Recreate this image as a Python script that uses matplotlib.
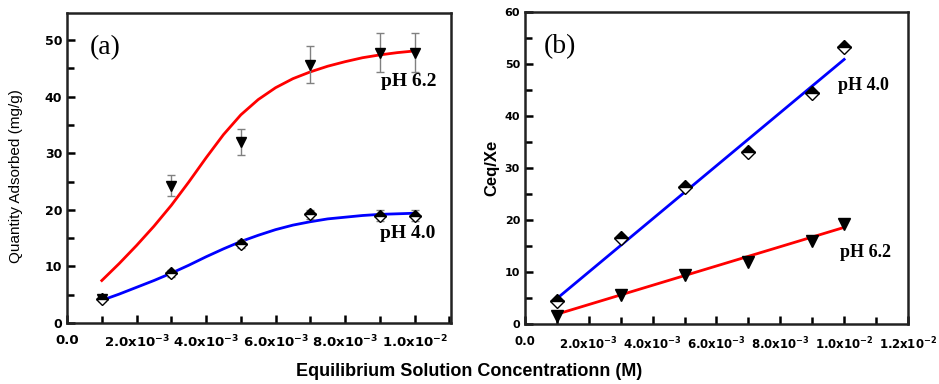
import matplotlib
matplotlib.use('Agg')
import matplotlib.pyplot as plt
from matplotlib.ticker import MultipleLocator

plt.rcParams['font.family'] = 'Liberation Sans'
plt.rcParams['font.weight'] = 'bold'
plt.rcParams['mathtext.fontset'] = 'custom'
plt.rcParams['mathtext.rm'] = 'DejaVu Sans:bold'
plt.rcParams['mathtext.bf'] = 'DejaVu Sans:bold'
plt.rcParams['mathtext.it'] = 'DejaVu Sans:bold'
plt.rcParams['mathtext.default'] = 'bf'

# concentrations (M)
conc = [1e-3, 3e-3, 5e-3, 7e-3, 9e-3, 10e-3]

# (a) quantity adsorbed (mg/g)
q_ph62 = [4.3, 24.3, 32.0, 45.7, 47.8, 47.8]
q_ph62_err = [0.5, 1.8, 2.3, 3.2, 3.4, 3.4]
q_ph40 = [4.3, 8.8, 14.0, 19.2, 19.0, 19.0]
q_ph40_err = [0.5, 0.6, 0.7, 0.8, 0.9, 0.9]

# fitted curves
fit_x = [1e-3, 1.5e-3, 2e-3, 2.5e-3, 3e-3, 3.5e-3, 4e-3, 4.5e-3, 5e-3, 5.5e-3,
         6e-3, 6.5e-3, 7e-3, 7.5e-3, 8e-3, 8.5e-3, 9e-3, 9.5e-3, 10e-3]
fit_ph62 = [7.5, 10.5, 13.7, 17.1, 20.8, 24.9, 29.2, 33.3, 36.8, 39.5,
            41.6, 43.2, 44.4, 45.4, 46.2, 46.9, 47.4, 47.8, 48.1]
fit_ph40 = [4.0, 5.1, 6.3, 7.5, 8.8, 10.2, 11.7, 13.1, 14.4, 15.5,
            16.5, 17.3, 17.9, 18.4, 18.7, 19.0, 19.2, 19.3, 19.4]

# (b) Ceq/Xe
c_ph40 = [4.5, 16.5, 26.3, 33.0, 44.5, 53.2]
c_ph62 = [1.5, 5.5, 9.5, 12.0, 16.0, 19.2]
line_x = [1e-3, 10e-3]
line_ph40 = [4.9, 50.9]
line_ph62 = [1.9, 18.6]

xticks_a = [0, 2e-3, 4e-3, 6e-3, 8e-3, 10e-3]
xlabels_a = ['0.0', '2.0x10$^{-3}$', '4.0x10$^{-3}$', '6.0x10$^{-3}$',
             '8.0x10$^{-3}$', '1.0x10$^{-2}$']
xticks_b = xticks_a + [12e-3]
xlabels_b = xlabels_a + ['1.2x10$^{-2}$']

fig = plt.figure(figsize=(9.39, 3.84), dpi=100)
ax1 = fig.add_axes([0.0714, 0.159, 0.409, 0.807])
ax2 = fig.add_axes([0.559, 0.156, 0.408, 0.8125])

serif = 'Liberation Serif'

# panel (a)
ax1.plot(fit_x, fit_ph62, color='red', lw=2, solid_joinstyle='round')
ax1.plot(fit_x, fit_ph40, color='blue', lw=2, solid_joinstyle='round')
ax1.errorbar(conc, q_ph62, yerr=q_ph62_err, fmt='v', color='black', ms=7,
             ecolor='gray', elinewidth=1, capsize=3)
ax1.errorbar(conc, q_ph40, yerr=q_ph40_err, fmt='D', color='black', ms=6,
             fillstyle='top', markerfacecoloralt='white', ecolor='gray',
             elinewidth=1, capsize=3)
ax1.set_xlim(0, 0.01105)
ax1.set_ylim(0, 54.8)
ax1.set_xticks(xticks_a)
ax1.set_xticklabels(xlabels_a)
ax1.xaxis.set_minor_locator(MultipleLocator(1e-3))
ax1.yaxis.set_major_locator(MultipleLocator(10))
ax1.yaxis.set_minor_locator(MultipleLocator(5))
ax1.set_ylabel('Quantity Adsorbed (mg/g)', fontsize=11, fontweight='normal')
ax1.yaxis.set_label_coords(-0.114, 0.474)
ax1.text(0.06, 0.93, '(a)', transform=ax1.transAxes, fontsize=20,
         family=serif, fontweight='normal', va='top')
ax1.text(0.963, 0.78, 'pH 6.2', transform=ax1.transAxes, fontsize=14,
         family=serif, fontweight='bold', ha='right', va='center')
ax1.text(0.958, 0.29, 'pH 4.0', transform=ax1.transAxes, fontsize=14,
         family=serif, fontweight='bold', ha='right', va='center')

# panel (b)
ax2.plot(line_x, line_ph40, color='blue', lw=2)
ax2.plot(line_x, line_ph62, color='red', lw=2)
ax2.plot(conc, c_ph40, 'D', color='black', ms=7, fillstyle='top',
         markerfacecoloralt='white')
ax2.plot(conc, c_ph62, 'v', color='black', ms=9)
ax2.set_xlim(0, 0.012)
ax2.set_ylim(0, 60)
ax2.set_xticks(xticks_b)
ax2.set_xticklabels(xlabels_b)
ax2.xaxis.set_minor_locator(MultipleLocator(1e-3))
ax2.yaxis.set_major_locator(MultipleLocator(10))
ax2.yaxis.set_minor_locator(MultipleLocator(5))
ax2.set_ylabel('Ceq/Xe', fontsize=12, fontweight='bold')
ax2.text(0.05, 0.93, '(b)', transform=ax2.transAxes, fontsize=20,
         family=serif, fontweight='normal', va='top')
ax2.text(0.817, 0.766, 'pH 4.0', transform=ax2.transAxes, fontsize=13,
         family=serif, fontweight='bold', va='center')
ax2.text(0.822, 0.23, 'pH 6.2', transform=ax2.transAxes, fontsize=13,
         family=serif, fontweight='bold', va='center')

for ax in (ax1, ax2):
    for s in ax.spines.values():
        s.set_linewidth(1.8)
        s.set_color('#222222')
    ax.tick_params(which='both', direction='in', width=1.8,
                   labelfontfamily='DejaVu Sans', top=False, right=False)
    ax.tick_params(which='major', length=6)
    ax.tick_params(which='minor', length=5)
    ax.tick_params(axis='x', pad=8)

ax1.tick_params(axis='x', labelsize=9.5)
ax1.tick_params(axis='y', labelsize=9)
ax2.tick_params(axis='x', labelsize=8.5)
ax2.tick_params(axis='y', labelsize=8)

fig.text(0.5, 0.02, 'Equilibrium Solution Concentrationn (M)', ha='center',
         fontsize=13, fontweight='bold')

fig.savefig('out.png', dpi=100)
